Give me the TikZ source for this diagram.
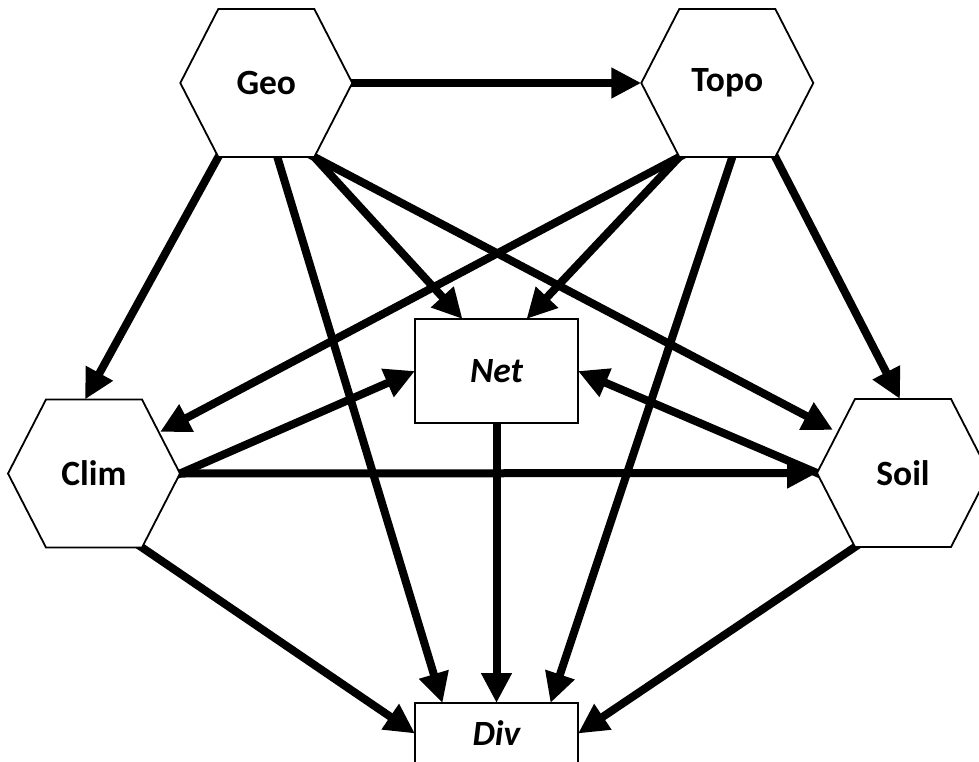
\documentclass[tikz,border=0pt]{standalone}
\usepackage{fontspec}
\setmainfont{Carlito}
\usetikzlibrary{arrows.meta}
\pgfdeclarelayer{background}
\pgfsetlayers{background,main}
\newcommand{\diagfont}{\fontsize{35.5}{42}\selectfont\bfseries}

\begin{document}
\begin{tikzpicture}[x=1pt,y=-1pt,
  hexnode/.style={minimum width=172pt,minimum height=148pt,inner sep=0pt,outer sep=0pt,font=\diagfont},
  boxnode/.style={draw,line width=1.8pt,fill=white,minimum width=163pt,inner sep=0pt,outer sep=0pt,font=\diagfont\itshape},
  hexline/.style={draw,line width=1.8pt,fill=white,line join=miter},
  link/.style={line width=8pt,shorten <=-8pt,-{Triangle[length=30pt,width=29pt]}}]
\useasboundingbox (0,0) rectangle (979,762);

% variables
\node[hexnode] (geo)  at (266.3,83)  {Geo};
\node[hexnode] (topo) at (727.3,83)  {Topo};
\node[hexnode] (clim) at (94,473.5)  {Clim};
\node[hexnode] (soil) at (903,473)   {Soil};
\node[boxnode,minimum height=104pt] (net) at (496.5,371)   {Net};
\node[boxnode,minimum height=61pt]  (div) at (496.5,733.5) {Div};

\begin{pgfonlayer}{background}
  % causal links
  \draw[link] (geo.east) -- (topo.west);
  \draw[link] ([xshift=38pt]geo.south west) -- ([xshift=-9pt]clim.north);
  \draw[link] ([xshift=11pt]geo.south) -- ([xshift=-54pt]div.north);
  \draw[link] ([xshift=-38pt]geo.south east) -- ([xshift=-34pt]net.north);
  \draw[link] ([xshift=-38pt]geo.south east) -- ([xshift=16pt,yshift=43pt]soil.west);
  \draw[link] ([xshift=38pt]topo.south west) -- ([xshift=-20pt,yshift=41.5pt]clim.east);
  \draw[link] ([xshift=38pt]topo.south west) -- ([xshift=30pt]net.north);
  \draw[link] ([xshift=5pt]topo.south) -- ([xshift=54pt]div.north);
  \draw[link] ([xshift=-38pt]topo.south east) -- ([xshift=-3pt]soil.north);
  \draw[link] (clim.east) -- (net.west);
  \draw[link] (clim.east) -- (soil.west);
  \draw[link] (soil.west) -- (net.east);
  \draw[link] ([xshift=-38pt]clim.south east) -- (div.west);
  \draw[link] ([xshift=38pt]soil.south west) -- (div.east);
  \draw[link] (net.south) -- (div.north);
  % hexagon outlines
  \foreach \h in {geo,topo,clim,soil}
    \path[hexline] (\h.west) -- ([xshift=38pt]\h.north west) -- ([xshift=-38pt]\h.north east)
      -- (\h.east) -- ([xshift=-38pt]\h.south east) -- ([xshift=38pt]\h.south west) -- cycle;
\end{pgfonlayer}
\end{tikzpicture}
\end{document}
